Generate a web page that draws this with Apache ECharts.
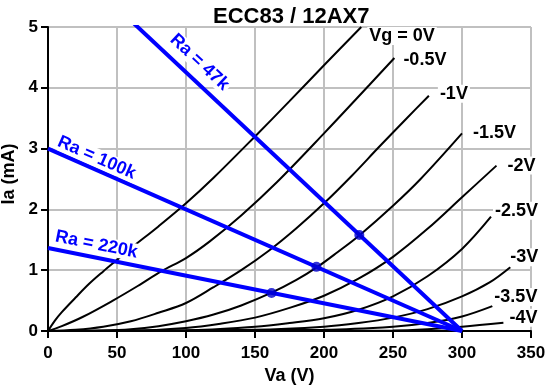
<!DOCTYPE html>
<html>
<head>
<meta charset="utf-8">
<script src="https://cdn.jsdelivr.net/npm/echarts@6/dist/echarts.min.js"></script>
<style>html,body{margin:0;padding:0;background:#fff;}#chart{width:547px;height:390px;}</style>
</head>
<body>
<div id="chart"></div>
<script>
// ---- data ----
const titleText = 'ECC83 / 12AX7';
const curveNames = ['Vg = 0V', '-0.5V', '-1V', '-1.5V', '-2V', '-2.5V', '-3V', '-3.5V', '-4V'];

const vaVg0   = [0, 5, 10, 20, 30, 40, 50, 60, 80, 100, 120, 150, 175, 200, 227];
const iaVg0   = [0, 0.17, 0.31, 0.55, 0.78, 0.98, 1.17, 1.36, 1.72, 2.1, 2.52, 3.2, 3.78, 4.37, 5.0];
const vaVg05  = [0, 10, 25, 47, 65, 82, 100, 117, 140, 166, 200, 233, 251];
const iaVg05  = [0, 0.08, 0.23, 0.5, 0.74, 0.98, 1.2, 1.47, 1.9, 2.45, 3.25, 4.05, 4.49];
const vaVg1   = [0, 20, 40, 60, 80, 100, 120, 140, 160, 180, 200, 220, 240, 260, 276];
const iaVg1   = [0, 0.02, 0.07, 0.16, 0.3, 0.46, 0.72, 1.0, 1.32, 1.69, 2.1, 2.55, 3.03, 3.5, 3.87];
const vaVg15  = [0, 40, 60, 80, 100, 120, 140, 162, 180, 195, 210, 226, 250, 270, 300];
const iaVg15  = [0, 0.01, 0.03, 0.08, 0.16, 0.27, 0.42, 0.63, 0.84, 1.05, 1.3, 1.58, 2.06, 2.5, 3.25];
const vaVg2   = [0, 60, 100, 125, 150, 175, 200, 225, 250, 275, 300, 325];
const iaVg2   = [0, 0.005, 0.05, 0.12, 0.22, 0.38, 0.58, 0.86, 1.22, 1.68, 2.2, 2.72];
const vaVg25  = [0, 100, 150, 175, 200, 225, 250, 275, 300, 321];
const iaVg25  = [0, 0.01, 0.07, 0.13, 0.21, 0.35, 0.57, 0.9, 1.35, 1.88];
const vaVg3   = [0, 150, 200, 225, 250, 275, 300, 320, 335];
const iaVg3   = [0, 0.02, 0.07, 0.13, 0.22, 0.36, 0.57, 0.8, 1.05];
const vaVg35  = [0, 200, 250, 275, 300, 322];
const iaVg35  = [0, 0.02, 0.07, 0.13, 0.24, 0.41];
const vaVg4   = [0, 250, 275, 300, 330];
const iaVg4   = [0, 0.01, 0.03, 0.07, 0.135];

const loadNames = ['Ra = 47k', 'Ra = 100k', 'Ra = 220k'];
const loadIaAtZero = [6.383, 3.0, 1.364];   // Ia at Va = 0
const supplyVa = 300;                        // Va at Ia = 0

const opVa = [225.6, 194.5, 162];
const opIa = [1.58, 1.055, 0.625];

const xTicks = [0, 50, 100, 150, 200, 250, 300, 350];
const yTicks = [0, 1, 2, 3, 4, 5];

// ---- build ----
const curveVa = [vaVg0, vaVg05, vaVg1, vaVg15, vaVg2, vaVg25, vaVg3, vaVg35, vaVg4];
const curveIa = [iaVg0, iaVg05, iaVg1, iaVg15, iaVg2, iaVg25, iaVg3, iaVg35, iaVg4];
const FONT = '"Liberation Sans", Arial, sans-serif';
const endLabelOffsets = [[-2, 9], [-1, 2], [1, -2], [1, 0], [1, 0], [-6, -6], [-10, -10], [-8, -9], [-4, -5]];
const loadLabelPos = [[109.8, 4.42], [35.3, 2.85], [35.1, 1.42]];
const loadLabelRot = [-43.2, -23.8, -11.35];

const series = [];
curveNames.forEach((nm, i) => {
  series.push({
    name: nm, type: 'line', smooth: 0.35, symbol: 'none',
    data: curveVa[i].map((v, k) => [v, curveIa[i][k]]),
    lineStyle: { color: '#000', width: 2 }, z: 2,
    endLabel: {
      show: true, formatter: nm, offset: endLabelOffsets[i],
      color: '#000', fontSize: 18, fontWeight: 'bold', fontFamily: FONT,
      backgroundColor: '#fff', padding: [0, 2]
    }
  });
});
loadNames.forEach((nm, i) => {
  series.push({
    name: nm, type: 'line', symbol: 'none', clip: true, z: 3,
    data: [[0, loadIaAtZero[i]], [supplyVa, 0]],
    lineStyle: { color: '#0000ff', width: 4 },
    markPoint: {
      symbol: 'circle', symbolSize: 1, itemStyle: { color: 'rgba(0,0,0,0)' },
      data: [{ coord: loadLabelPos[i] }],
      label: {
        show: true, position: 'inside', formatter: nm, rotate: loadLabelRot[i],
        color: '#0000ff', fontSize: 18, fontWeight: 'bold', fontFamily: FONT,
        backgroundColor: '#fff', padding: [0, 2]
      }
    }
  });
});
series.push({
  name: 'op', type: 'scatter', symbol: 'circle', symbolSize: 10, z: 4,
  data: opVa.map((v, k) => [v, opIa[k]]),
  itemStyle: { color: '#0000cc' }
});

const axisCommon = {
  type: 'value',
  axisLine: { show: true, lineStyle: { color: '#000', width: 2 } },
  axisTick: { show: true, inside: false, length: 7, lineStyle: { color: '#000', width: 2 } },
  splitLine: { show: true, lineStyle: { color: '#c0c0c0', width: 2 } },
  nameLocation: 'middle'
};

const chart = echarts.init(document.getElementById('chart'), null, { renderer: 'canvas' });
chart.setOption({
  animation: false,
  backgroundColor: '#fff',
  title: {
    text: titleText, left: 208, top: 1,
    textStyle: { color: '#000', fontSize: 22, fontWeight: 'bold', fontFamily: FONT }
  },
  grid: { left: 48, right: 16, top: 27, bottom: 59, containLabel: false, outerBoundsMode: 'none' },
  xAxis: Object.assign({}, axisCommon, {
    min: xTicks[0], max: xTicks[xTicks.length - 1], interval: xTicks[1] - xTicks[0],
    name: 'Va (V)', nameGap: 26,
    nameTextStyle: { color: '#000', fontSize: 18, fontWeight: 'bold', fontFamily: FONT },
    axisLabel: { color: '#000', fontSize: 17, fontWeight: 'bold', fontFamily: FONT, margin: 14 }
  }),
  yAxis: Object.assign({}, axisCommon, {
    min: yTicks[0], max: yTicks[yTicks.length - 1], interval: yTicks[1] - yTicks[0],
    name: 'Ia (mA)', nameGap: 22,
    nameTextStyle: { color: '#000', fontSize: 18, fontWeight: 'bold', fontFamily: FONT, padding: [0, 0, 0, 10] },
    axisLabel: { color: '#000', fontSize: 17, fontWeight: 'bold', fontFamily: FONT, margin: 10 }
  }),
  series: series
});
</script>
</body>
</html>
